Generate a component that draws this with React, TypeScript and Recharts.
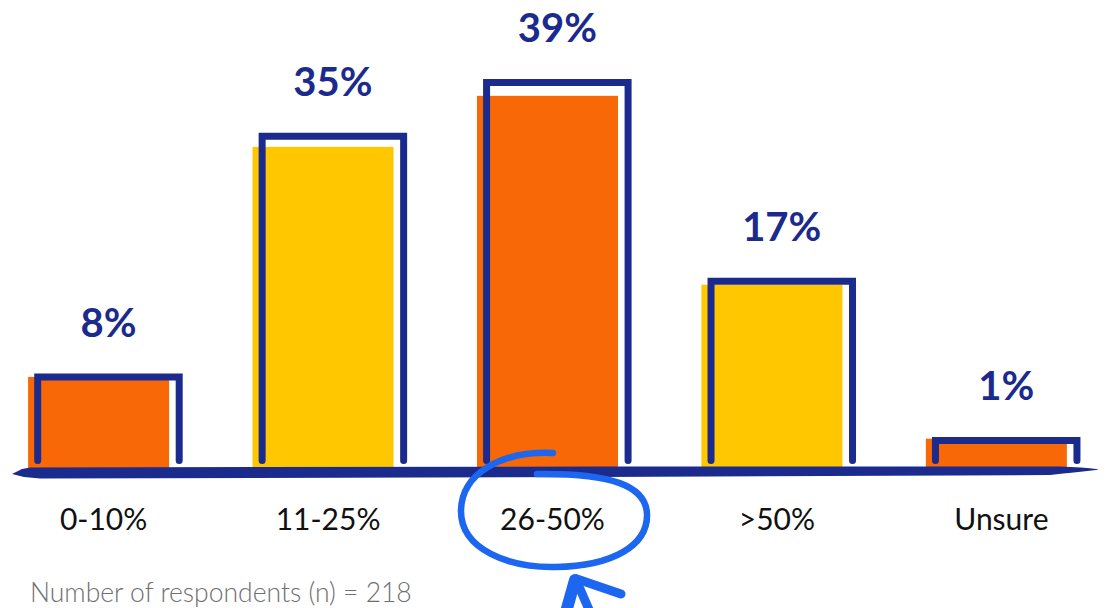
import React from 'react';
import { BarChart, Bar, XAxis, YAxis, LabelList } from 'recharts';

// categories and the percentages printed above the bars
const categories = ['0-10%', '11-25%', '26-50%', '>50%', 'Unsure'];
const shares = [8, 35, 39, 17, 1];

// heights of the coloured blocks and of the navy frames (same % axis)
const fillLevels = [7.6, 33.3, 39.0, 17.9, 0.7];
const frameLevels = [7.6, 34.5, 40.5, 18.3, 0.5];

const AXIS_FLOOR = -2.8;
const AXIS_TOP = 42;

const NAVY = '#1B2A8D';
const palette = ['#F86806', '#FEC700'];
const FILL_SHIFT = -5.3;
const FRAME_SHIFT = 5.3;

const data = categories.map((category, i) => ({
  category,
  share: shares[i],
  block: [AXIS_FLOOR, fillLevels[i]],
  frame: [AXIS_FLOOR, frameLevels[i]],
}));

const BlockShape = (props: any) => {
  const { x, y, width, height, index } = props;
  return <rect x={x + FILL_SHIFT} y={y} width={width} height={height} fill={palette[index % 2]} />;
};

const FrameShape = (props: any) => {
  const { x, y, width, height } = props;
  const left = x + FRAME_SHIFT;
  const right = left + width;
  const bottom = y + height - 9.5;
  return (
    <path
      d={`M${left},${bottom} L${left},${y} L${right},${y} L${right},${bottom}`}
      fill="none"
      stroke={NAVY}
      strokeWidth={7}
      strokeLinecap="round"
      strokeLinejoin="miter"
    />
  );
};

const ShareLabel = (props: any) => {
  const { x, y, width, value } = props;
  return (
    <text
      x={x + width / 2 + FRAME_SHIFT}
      y={y - 40}
      textAnchor="middle"
      fill={NAVY}
      fontFamily="Lato, 'Noto Sans', sans-serif"
      fontWeight={700}
      fontSize={40}
    >
      {value}%
    </text>
  );
};

export default function App() {
  return (
    <div style={{ position: 'relative', width: 1106, height: 608, margin: '-8px 0 0 -8px' }}>
      <BarChart
        width={1106}
        height={608}
        data={data}
        margin={{ top: 69, right: -7.6, left: -8.6, bottom: 78 }}
      >
        <YAxis hide domain={[AXIS_FLOOR, AXIS_TOP]} />
        <XAxis
          xAxisId="block"
          dataKey="category"
          height={60}
          axisLine={false}
          tickLine={false}
          tickSize={0}
          tickMargin={39}
          interval={0}
          tick={{ fill: '#111', fontSize: 30, fontFamily: "Lato, 'Noto Sans', sans-serif" }}
        />
        <XAxis xAxisId="frame" dataKey="category" hide />
        <Bar xAxisId="block" dataKey="block" barSize={141} shape={BlockShape} isAnimationActive={false} />
        <Bar xAxisId="frame" dataKey="frame" barSize={141.5} shape={FrameShape} isAnimationActive={false}>
          <LabelList dataKey="share" content={ShareLabel} />
        </Bar>
      </BarChart>
      <svg
        width={1106}
        height={608}
        style={{ position: 'absolute', left: 0, top: 0, pointerEvents: 'none' }}
      >
        {/* hand drawn baseline */}
        <path
          d="M12,474 L22,469 L30,467.5 L600,466.5 L1060,466.5 Q1085,467.5 1101,469.5 Q1080,472 1050,475 L600,477 L40,478.5 L24,477 Z"
          fill={NAVY}
        />
        {/* circle round the highlighted category */}
        <path
          d="M553,453 C500,451 462,474 461,510 C460,550 510,568 556,567 C612,566 648,546 647,514 C646,486 612,473 537,474"
          fill="none"
          stroke="#1D66F0"
          strokeWidth={6.5}
          strokeLinecap="round"
        />
        {/* arrow */}
        <g stroke="#1D66F0" strokeLinecap="round" strokeLinejoin="round" fill="none">
          <path d="M566,612 L575,580" strokeWidth={12} />
          <path d="M577,582 L590,612" strokeWidth={9} />
          <path d="M577,579 L621,594" strokeWidth={9} />
        </g>
        <text
          x={30}
          y={602}
          fill="#707070"
          fontFamily="Lato, 'Noto Sans', sans-serif"
          fontWeight={300}
          fontSize={26.5}
        >
          Number of respondents (n) = 218
        </text>
      </svg>
    </div>
  );
}
